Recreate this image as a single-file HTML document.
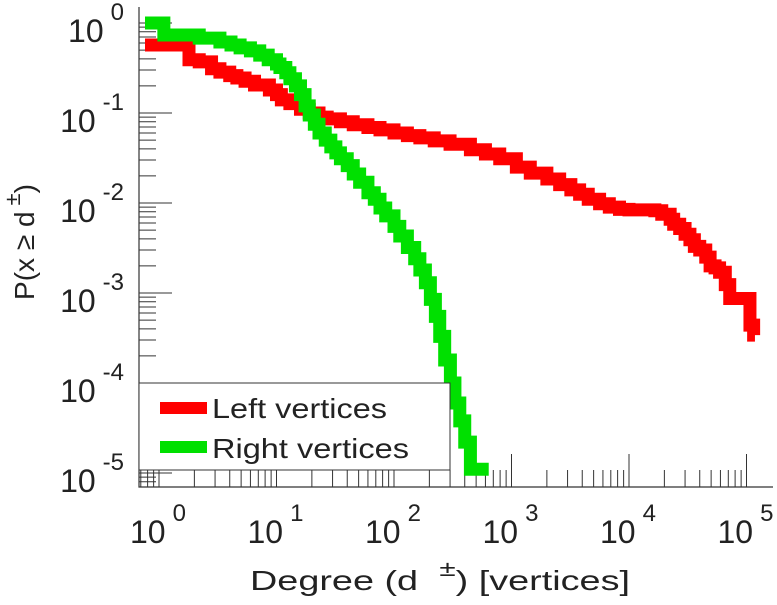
<!DOCTYPE html>
<html><head><meta charset="utf-8"><style>
body{margin:0;background:#fff}
svg text{font-family:"Liberation Sans",sans-serif;fill:#222}
</style></head><body>
<svg id="chart" width="777" height="600" xmlns="http://www.w3.org/2000/svg">
<g id="ticks"></g>
<g id="series"></g>
<g id="labels"></g>
<g>
<rect x="139" y="383" width="311" height="87" fill="#fff" stroke="#333" stroke-width="1"/>
<line x1="160" y1="408" x2="207" y2="408" stroke="#ff0000" stroke-width="12"/>
<text x="212" y="418" font-size="28" textLength="175" lengthAdjust="spacingAndGlyphs">Left vertices</text>
<line x1="160" y1="447" x2="207" y2="447" stroke="#00e000" stroke-width="12"/>
<text x="212" y="458" font-size="28" textLength="197" lengthAdjust="spacingAndGlyphs">Right vertices</text>
</g>
<text x="250" y="590" font-size="28" textLength="380" lengthAdjust="spacingAndGlyphs">Degree (d <tspan dx="8" dy="-14" font-size="22">±</tspan><tspan dy="14">) [vertices]</tspan></text>
<text transform="translate(34,242) rotate(-90)" font-size="28" text-anchor="middle">P(x ≥ d<tspan dx="6" dy="-14" font-size="22">±</tspan><tspan dy="14">)</tspan></text>
</svg>
<script>
const xTickExps=[0,1,2,3,4,5];
const yTickExps=[0,-1,-2,-3,-4,-5];
const seriesNames=["Left vertices","Right vertices"];
const leftX=[0.68,1.8,2.2,2.8,3.3,4,4.6,5.4,6.5,8.7,10,11,13,16,19,23,27,35,45,60,76,100,130,166,220,300,447,600,794,1100,1445,2000,2570,3200,3800,4500,5620,6800,8300,10000,12300,16600,19000,22400,24000,27000,30000,33000,36000,40000,45000,49000,54000,59000,66000,72000,107000,115000];
const leftY=[0.57,0.39,0.37,0.31,0.285,0.26,0.245,0.225,0.205,0.18,0.16,0.14,0.127,0.11,0.1,0.09,0.086,0.08,0.074,0.069,0.065,0.06,0.056,0.053,0.049,0.045,0.039,0.035,0.031,0.025,0.0215,0.0185,0.016,0.014,0.0125,0.011,0.0098,0.009,0.0085,0.0084,0.0084,0.0082,0.0075,0.0066,0.0058,0.0052,0.0045,0.0039,0.0033,0.0030,0.0025,0.0020,0.0019,0.0017,0.00124,0.00087,0.00044,0.00034];
const rightX=[0.68,1.1,2.2,3.3,4.1,4.9,6,7.2,8.5,10,10.7,12,13,14.5,16,17.5,19,21,23,26,29,32,35,40,45,51,60,68,76,85,100,112,130,150,166,185,204,225,245,270,302,330,363,400,447,617];
const rightY=[1,0.736,0.68,0.615,0.57,0.53,0.49,0.44,0.39,0.35,0.32,0.28,0.24,0.2,0.16,0.12,0.095,0.075,0.06,0.05,0.042,0.036,0.031,0.026,0.021,0.017,0.013,0.011,0.0088,0.0072,0.0055,0.0043,0.0032,0.0024,0.0018,0.0013,0.00085,0.00055,0.00033,0.00018,0.0001,0.00006,0.000038,0.000022,0.000011,0.000011];
const NS="http://www.w3.org/2000/svg";
const X0=159,XD=117.5,Y0=23,YD=90,L=139,B=487,R=773,T=7;
function sx(v){return X0+Math.log10(v)*XD;}
function sy(v){return Math.min(B,Y0-Math.log10(v)*YD);}
function mk(tag,attrs,parent){const e=document.createElementNS(NS,tag);for(const k in attrs)e.setAttribute(k,attrs[k]);parent.appendChild(e);return e;}
const tg=document.getElementById('ticks');
let ax=mk('path',{d:`M${L},${T}V${B}H${R}`,fill:'none',stroke:'#333','stroke-width':1.2},tg);


for(let e=-1;e<=5;e++){for(let m=1;m<10;m++){const v=m*Math.pow(10,e);const x=sx(v);if(x<L||x>R)continue;const len=m===1?33:17;
const t=mk('line',{x1:x,x2:x,y1:B,y2:B-len,stroke:'#333','stroke-width':1},tg);

}}
for(let e=-6;e<=0;e++){for(let m=1;m<10;m++){const v=m*Math.pow(10,e);const y=sy(v);if(y<T||y>=B)continue;const len=m===1?33:17;
const t=mk('line',{x1:L,x2:L+len,y1:y,y2:y,stroke:'#333','stroke-width':1},tg);

}}
const lg=document.getElementById('labels');
xTickExps.forEach(e=>{const t=mk('text',{x:sx(Math.pow(10,e))-29,y:543,'font-size':32},lg);t.innerHTML='10<tspan dx="7" dy="-22" font-size="24">'+e+'</tspan>';

});
yTickExps.forEach(e=>{const t=mk('text',{x:124,y:sy(Math.pow(10,e))+19,'font-size':32,'text-anchor':'end'},lg);t.innerHTML='10<tspan dx="7" dy="-22" font-size="24">'+e+'</tspan>';

});
const sg=document.getElementById('series');
function stepPath(xs,ys,endX){let d='';for(let i=0;i<xs.length;i++){const x=Math.max(L+6,sx(xs[i])),y=sy(ys[i]);d+=(i?'V'+y:'M'+x+','+y);const nx=i<xs.length-1?sx(xs[i+1]):sx(endX);d+='H'+nx;}return d;}
const p1=mk('path',{d:stepPath(leftX,leftY,118000),fill:'none',stroke:'#ff0000','stroke-width':13,'stroke-linejoin':'miter'},sg);


const p2=mk('path',{d:stepPath(rightX,rightY,640),fill:'none',stroke:'#00e000','stroke-width':13,'stroke-linejoin':'miter'},sg);


</script>
</body></html>
